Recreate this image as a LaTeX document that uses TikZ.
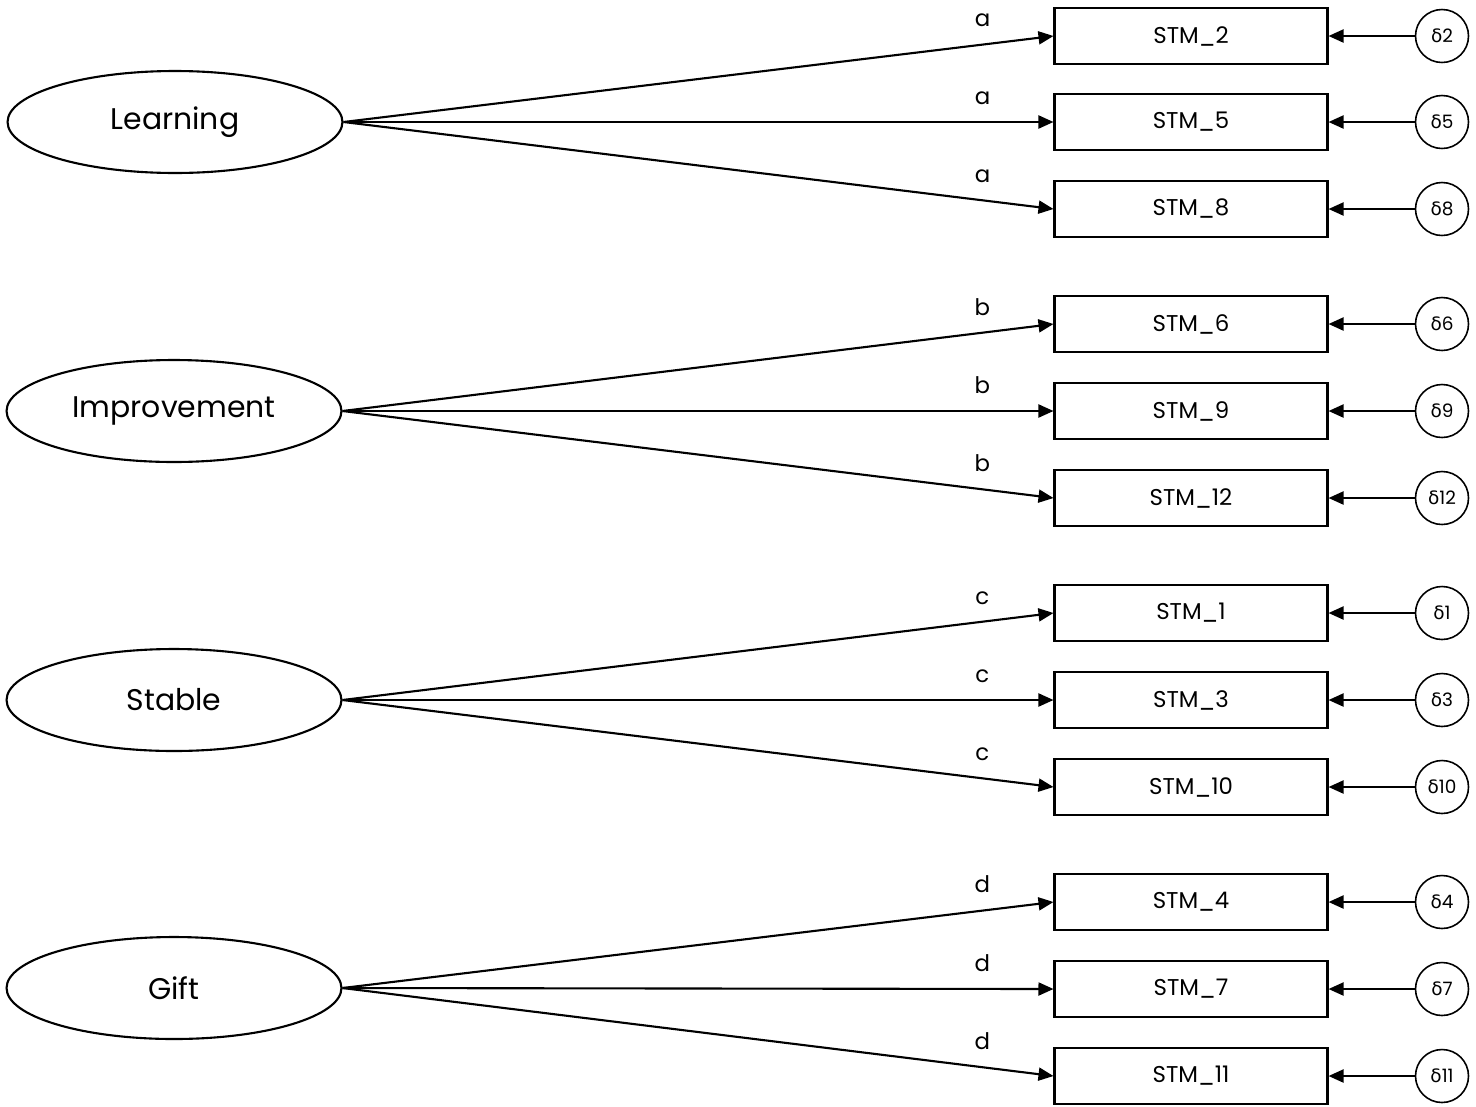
\documentclass[tikz,border=0pt]{standalone}
\usepackage{fontspec}
\setmainfont{Poppins}
\newfontfamily\grk{DejaVu Sans}
\usetikzlibrary{shapes.geometric}
\usetikzlibrary{arrows.meta}

\begin{document}
\begin{tikzpicture}[x=0.02cm, y=-0.02cm]
        % ================= styles =================
        \tikzset{
            % latent factor: wide ellipse
            latent/.style={ellipse, draw=black, line width=1.2pt, fill=white, minimum width=6.7cm, minimum height=2.04cm, font=\fontsize{17}{19}\selectfont},
            % observed item box
            item/.style={rectangle, draw=black, line width=1.2pt, fill=white, minimum width=5.46cm, minimum height=1.12cm, font=\fontsize{13}{15}\selectfont},
            % error term circle
            err/.style={circle, draw=black, line width=0.9pt, fill=white, minimum size=1.06cm, inner sep=0pt, font=\fontsize{10.5}{12}\selectfont},
            % loading arrow
            load/.style={line width=1.2pt, -{Triangle[length=0.3cm, width=0.26cm]}},
            % loading label near the arrow tip
            lbl/.style={above=6pt, pos=0.9, font=\fontsize{13}{15}\selectfont}
        }
        \useasboundingbox (0,0) rectangle (1476,1106);

        % ================= latent factors =================
        \node[latent] (learn) at (175,122) {Learning};
        \node[latent] (impr)  at (174,411) {Improvement};
        \node[latent] (stab)  at (174,700) {Stable};
        \node[latent] (gift)  at (174,988) {Gift};

        % ================= items =================
        \node[item] (s2)  at (1191,36)   {STM\_2};
        \node[item] (s5)  at (1191,122)  {STM\_5};
        \node[item] (s8)  at (1191,209)  {STM\_8};
        \node[item] (s6)  at (1191,324)  {STM\_6};
        \node[item] (s9)  at (1191,411)  {STM\_9};
        \node[item] (s12) at (1191,498)  {STM\_12};
        \node[item] (s1)  at (1191,613)  {STM\_1};
        \node[item] (s3)  at (1191,700)  {STM\_3};
        \node[item] (s10) at (1191,787)  {STM\_10};
        \node[item] (s4)  at (1191,902)  {STM\_4};
        \node[item] (s7)  at (1191,989)  {STM\_7};
        \node[item] (s11) at (1191,1076) {STM\_11};

        % ================= error terms =================
        \node[err] (d2)  at (1442,36)   {{\grk δ}2};
        \node[err] (d5)  at (1442,122)  {{\grk δ}5};
        \node[err] (d8)  at (1442,209)  {{\grk δ}8};
        \node[err] (d6)  at (1442,324)  {{\grk δ}6};
        \node[err] (d9)  at (1442,411)  {{\grk δ}9};
        \node[err] (d12) at (1442,498)  {{\grk δ}12};
        \node[err] (d1)  at (1442,613)  {{\grk δ}1};
        \node[err] (d3)  at (1442,700)  {{\grk δ}3};
        \node[err] (d10) at (1442,787)  {{\grk δ}10};
        \node[err] (d4)  at (1442,902)  {{\grk δ}4};
        \node[err] (d7)  at (1442,989)  {{\grk δ}7};
        \node[err] (d11) at (1442,1076) {{\grk δ}11};

        % ================= loadings =================
        \draw[load] (learn.east) -- node[lbl] {a} (s2.west);
        \draw[load] (learn.east) -- node[lbl] {a} (s5.west);
        \draw[load] (learn.east) -- node[lbl] {a} (s8.west);
        \draw[load] (impr.east) -- node[lbl] {b} (s6.west);
        \draw[load] (impr.east) -- node[lbl] {b} (s9.west);
        \draw[load] (impr.east) -- node[lbl] {b} (s12.west);
        \draw[load] (stab.east) -- node[lbl] {c} (s1.west);
        \draw[load] (stab.east) -- node[lbl] {c} (s3.west);
        \draw[load] (stab.east) -- node[lbl] {c} (s10.west);
        \draw[load] (gift.east) -- node[lbl] {d} (s4.west);
        \draw[load] (gift.east) -- node[lbl] {d} (s7.west);
        \draw[load] (gift.east) -- node[lbl] {d} (s11.west);

        % error arrows into the items
        \draw[load] (d2) -- (s2);
        \draw[load] (d5) -- (s5);
        \draw[load] (d8) -- (s8);
        \draw[load] (d6) -- (s6);
        \draw[load] (d9) -- (s9);
        \draw[load] (d12) -- (s12);
        \draw[load] (d1) -- (s1);
        \draw[load] (d3) -- (s3);
        \draw[load] (d10) -- (s10);
        \draw[load] (d4) -- (s4);
        \draw[load] (d7) -- (s7);
        \draw[load] (d11) -- (s11);

    \end{tikzpicture}
\end{document}
